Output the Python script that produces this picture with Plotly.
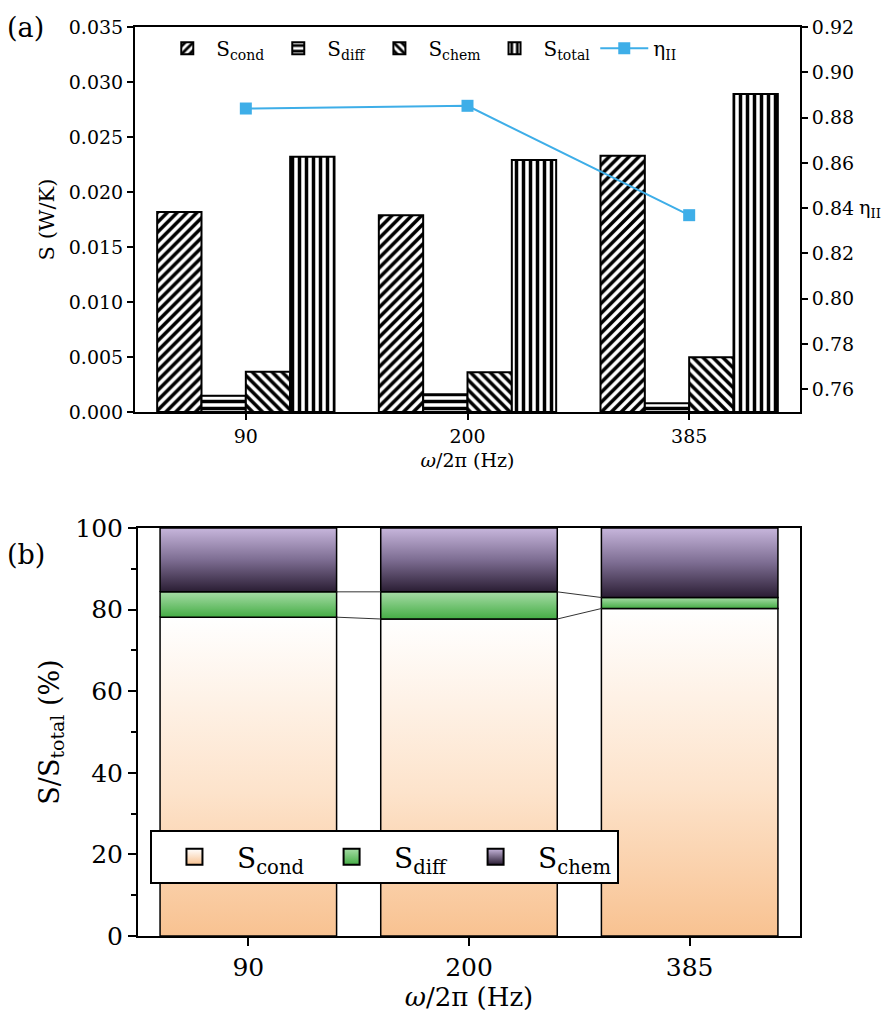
import numpy as np
import plotly.graph_objects as go

# ---------------- data ----------------
freqs = ["90", "200", "385"]
S_cond = [0.01818, 0.01788, 0.02330]
S_diff = [0.00148, 0.00161, 0.00079]
S_chem = [0.00366, 0.00361, 0.00497]
S_total = [0.02321, 0.02291, 0.02890]
eta_II = [0.8840, 0.8852, 0.8369]

pct_cond = [78.15, 77.70, 80.27]
pct_diff = [6.21, 6.66, 2.70]
pct_chem = [15.64, 15.64, 17.03]

FONT = "DejaVu Serif"
BLUE = "#3eaee8"

fig = go.Figure()

# ---------------- panel (a) ----------------
bar_specs = [
    ("S<sub>cond</sub>", S_cond, "/"),
    ("S<sub>diff</sub>", S_diff, "-"),
    ("S<sub>chem</sub>", S_chem, "\\"),
    ("S<sub>total</sub>", S_total, "|"),
]
for name, vals, shape in bar_specs:
    fig.add_trace(go.Bar(
        x=freqs, y=vals, name=name, xaxis="x", yaxis="y", legend="legend",
        marker=dict(color="white", line=dict(color="black", width=2),
                    pattern=dict(shape=shape, fgcolor="black", bgcolor="white",
                                 fgopacity=1, size=7, solidity=0.5,
                                 fillmode="replace")),
    ))
fig.add_trace(go.Scatter(
    x=freqs, y=eta_II, name="η<sub>II</sub>", xaxis="x", yaxis="y2",
    legend="legend", mode="lines+markers",
    line=dict(color=BLUE, width=2),
    marker=dict(symbol="square", size=12, color=BLUE),
))

# ---------------- panel (b) ----------------
comp_specs = [
    ("S<sub>cond</sub>", pct_cond, [[0, "#f8c291"], [0.45, "#fde3cb"], [1, "#ffffff"]], ("#ffffff", "#f8c291")),
    ("S<sub>diff</sub>", pct_diff, [[0, "#45ad45"], [1, "#a6dca6"]], ("#a6dca6", "#45ad45")),
    ("S<sub>chem</sub>", pct_chem, [[0, "#2a1d33"], [0.5, "#7d6d92"], [1, "#c7b6dc"]], ("#c7b6dc", "#2a1d33")),
]
half = 0.4
xpos = np.arange(len(freqs))
base = np.zeros(len(freqs))
levels = []
for name, vals, cs, (ctop, cbot) in comp_specs:
    vals = np.array(vals)
    for i, xc in enumerate(xpos):
        b0, b1 = base[i], base[i] + vals[i]
        fig.add_trace(go.Scatter(
            x=[xc - half, xc + half, xc + half, xc - half, xc - half],
            y=[b0, b0, b1, b1, b0],
            mode="lines", fill="toself",
            fillgradient=dict(type="vertical", colorscale=cs),
            line=dict(color="black", width=1.5),
            name=name, showlegend=False,
            xaxis="x2", yaxis="y3", hoverinfo="skip",
        ))
    fig.add_trace(go.Scatter(
        x=[None], y=[None], mode="markers", name=name,
        legend="legend2", xaxis="x2", yaxis="y3",
        marker=dict(symbol="square", size=30, color=ctop,
                    gradient=dict(type="vertical", color=cbot),
                    line=dict(color="black", width=2)),
    ))
    base = base + vals
    levels.append(base.copy())

for lv in levels[:-1]:
    for i in range(len(freqs) - 1):
        fig.add_trace(go.Scatter(
            x=[xpos[i] + half, xpos[i + 1] - half], y=[lv[i], lv[i + 1]],
            mode="lines", line=dict(color="#333333", width=1),
            showlegend=False, xaxis="x2", yaxis="y3", hoverinfo="skip",
        ))

ax_common = dict(showline=True, linecolor="black", linewidth=2,
                 ticks="outside", tickcolor="black", tickwidth=2,
                 showgrid=False, zeroline=False)

top_dom = [0.5765, 1.0]
bot_dom = [0.0, 0.4488]

fig.update_layout(
    width=883, height=1036,
    margin=dict(l=135, r=83, t=27, b=100),
    paper_bgcolor="white", plot_bgcolor="white",
    font=dict(family=FONT, color="black", size=19),
    barmode="group", bargap=0.2, bargroupgap=0,
    xaxis=dict(**ax_common, domain=[0, 1], anchor="y", mirror=True,
               ticklen=6, range=[-0.5, 2.5],
               tickfont=dict(family=FONT, size=19),
               title=dict(text="<i>ω</i>/2π (Hz)", font=dict(family=FONT, size=19), standoff=8)),
    yaxis=dict(**ax_common, domain=top_dom, anchor="x", range=[0, 0.035],
               dtick=0.005, tickformat=".3f", ticklen=6,
               tickfont=dict(family=FONT, size=19),
               title=dict(text="S (W/K)", font=dict(family=FONT, size=21), standoff=8)),
    yaxis2=dict(**ax_common, overlaying="y", side="right", anchor="x",
                range=[0.75, 0.92], dtick=0.02, tickformat=".2f", ticklen=6,
                tickfont=dict(family=FONT, size=19)),
    xaxis2=dict(**ax_common, domain=[0.0045, 1.0], anchor="y3", mirror=True,
                range=[-0.5, 2.5], tickvals=list(xpos), ticktext=freqs,
                ticklen=8, tickfont=dict(family=FONT, size=25),
                title=dict(text="<i>ω</i>/2π (Hz)", font=dict(family=FONT, size=26), standoff=6)),
    yaxis3=dict(**ax_common, domain=bot_dom, anchor="x2", mirror=True,
                range=[0, 100], dtick=20, ticklen=8, tickfont=dict(family=FONT, size=25),
                minor=dict(dtick=10, ticks="outside", ticklen=5,
                           tickcolor="black", tickwidth=2),
                title=dict(text="S/S<sub>total</sub> (%)", font=dict(family=FONT, size=27), standoff=8)),
    legend=dict(orientation="h", x=0.035, y=0.998, xanchor="left", yanchor="top",
                font=dict(family=FONT, size=20), bgcolor="rgba(0,0,0,0)", borderwidth=0,
                itemwidth=48, traceorder="normal"),
    legend2=dict(orientation="h", x=0.0225, y=0.1166, xanchor="left", yanchor="top",
                 font=dict(family=FONT, size=28), bgcolor="white", bordercolor="black",
                 borderwidth=2, itemwidth=75, itemsizing="trace", traceorder="normal"),
)

fig.add_annotation(text="η<sub>II</sub>", xref="paper", yref="paper",
                   x=1.085, y=0.80, xanchor="left", yanchor="middle",
                   showarrow=False, font=dict(family=FONT, size=19))
fig.add_annotation(text="(a)", xref="paper", yref="paper", x=-0.195, y=1.0,
                   xanchor="left", yanchor="middle", showarrow=False,
                   font=dict(family=FONT, size=27))
fig.add_annotation(text="(b)", xref="paper", yref="paper", x=-0.195, y=0.42,
                   xanchor="left", yanchor="middle", showarrow=False,
                   font=dict(family=FONT, size=27))

fig.write_html("out.html")
